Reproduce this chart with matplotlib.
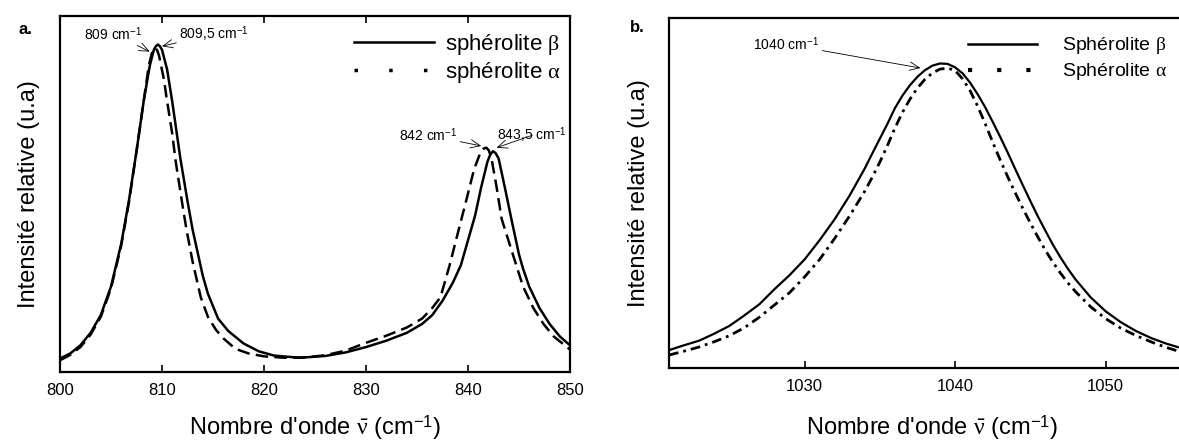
import matplotlib
matplotlib.use("Agg")
import matplotlib.pyplot as plt
from matplotlib.lines import Line2D

plt.rcParams['font.family'] = ['Liberation Sans', 'DejaVu Sans']
plt.rcParams['mathtext.fontset'] = 'custom'
plt.rcParams['mathtext.rm'] = 'Liberation Sans'
plt.rcParams['mathtext.it'] = 'Liberation Serif'
plt.rcParams['mathtext.bf'] = 'Liberation Sans:bold'

# ---- panel a : 800-850 cm-1 (relative intensity) ----
a_beta_x = [800, 801, 802, 803, 804, 805, 806, 806.75, 807.5, 808.2, 808.8, 809.2, 809.4,
            809.6, 809.8, 810.0, 810.5, 811, 811.8, 812.5, 813, 814, 814.5, 815.5, 816.5,
            818, 819.5, 821, 823.5, 826, 828, 830, 832, 834, 835.5, 836.5, 837.5, 838.5,
            839.3, 840, 840.7, 841.3, 841.9, 842.2, 842.45, 842.7, 843, 843.6, 844.25, 845,
            845.4, 846, 847, 848, 849, 850]
a_beta_y = [.038, .052, .075, .11, .16, .24, .36, .48, .62, .76, .86, .905, .915,
            .92, .915, .905, .85, .76, .6, .48, .40, .27, .22, .15, .115,
            .08, .058, .046, .040, .045, .055, .07, .088, .11, .135, .16, .2, .25,
            .3, .37, .44, .52, .59, .612, .62, .615, .6, .52, .43, .33,
            .29, .24, .18, .135, .1, .075]

a_alpha_x = [800, 801, 802, 803, 804, 805, 806, 806.75, 807.5, 808.2, 808.7, 809.0, 809.15,
             809.3, 809.5, 809.7, 810.2, 810.45, 811, 811.35, 812, 812.4, 813, 813.8, 814.5,
             815.3, 816, 817.2, 818.5, 820, 822, 824, 826, 828, 830, 832, 834, 835.5,
             836.5, 837.3, 838.2, 839, 839.9, 840.6, 841.2, 841.55, 841.8, 842.05, 842.3,
             842.8, 843.3, 844.4, 845.4, 846.4, 847.4, 848.4, 850]
a_alpha_y = [.033, .048, .07, .105, .155, .235, .355, .475, .62, .76, .86, .895, .905,
             .91, .905, .89, .82, .77, .67, .59, .47, .40, .31, .21, .155,
             .118, .095, .065, .052, .044, .040, .041, .047, .06, .082, .102, .125, .15,
             .18, .21, .30, .39, .49, .57, .615, .628, .63, .622, .60,
             .52, .43, .33, .24, .18, .135, .1, .063]

# ---- panel b : 1021-1056 cm-1 ----
b_x = [1021, 1022, 1023, 1024, 1025, 1026, 1027, 1028, 1029, 1030, 1031, 1032, 1033,
       1034, 1034.5, 1035, 1035.5, 1036, 1036.5, 1037, 1037.5, 1038, 1038.5, 1039, 1039.5,
       1040, 1040.5, 1041, 1041.5, 1042, 1042.5, 1043, 1043.5, 1044, 1044.5, 1045,
       1045.5, 1046, 1046.5, 1047, 1047.5, 1048, 1049, 1050, 1051, 1052, 1053, 1054,
       1055, 1056]
b_beta_y = [.051, .065, .078, .098, .12, .15, .182, .225, .265, .31, .365, .425, .493,
            .57, .613, .655, .697, .742, .778, .808, .832, .851, .864, .87, .869,
            .859, .842, .815, .782, .745, .703, .66, .615, .568, .522, .477,
            .433, .392, .352, .316, .283, .253, .202, .162, .131, .106, .086, .07,
            .057, .047]
b_alpha_y = [.037, .048, .06, .075, .092, .115, .145, .18, .215, .26, .31, .37, .435,
             .505, .545, .588, .635, .685, .73, .768, .8, .825, .843, .854, .857,
             .85, .826, .792, .748, .698, .645, .594, .546, .5, .456, .414,
             .374, .336, .302, .271, .243, .218, .175, .141, .114, .093, .075, .059,
             .046, .036]

a_ticks = [800, 810, 820, 830, 840, 850]
b_ticks = [1030, 1040, 1050]

xlab = r"Nombre d'onde $\bar{\nu}$ (cm$^{-1}$)"
ylab = "Intensité relative (u.a)"

W, H = 1179, 446
fig = plt.figure(figsize=(W / 100, H / 100), dpi=100)

axa = fig.add_axes([60 / W, 74 / H, 510 / W, 356 / H])
axb = fig.add_axes([669 / W, 78 / H, 527 / W, 350 / H])

axa.plot(a_beta_x, a_beta_y, color='black', lw=1.8)
axa.plot(a_alpha_x, a_alpha_y, color='black', lw=1.8, linestyle=(0, (5, 2.5)))

axb.plot(b_x, b_beta_y, color='black', lw=1.6)
axb.plot(b_x, b_alpha_y, color='black', lw=2.0, linestyle=(0, (3.5, 1.8, 1, 1.8)))

axa.set_xlim(800, 850)
axa.set_ylim(0, 1)
axb.set_xlim(1021, 1056)
axb.set_ylim(0, 1)

for ax in (axa, axb):
    ax.set_yticks([])
    for s in ax.spines.values():
        s.set_linewidth(1.6)
    ax.set_xlabel(xlab, fontsize=17)
    ax.set_ylabel(ylab, fontsize=17)

axa.set_xticks(a_ticks)
axa.tick_params(axis='x', direction='in', top=True, length=5, width=1.2,
                labelsize=12, pad=8)
axb.set_xticks(b_ticks)
axb.tick_params(axis='x', direction='in', length=5, width=1.2, labelsize=12, pad=8)

axa.xaxis.set_label_coords(0.5, -0.115)
axb.xaxis.set_label_coords(0.5, -0.128)
axa.yaxis.set_label_coords(-0.039, 0.5)
axb.yaxis.set_label_coords(-0.036, 0.5)

# legends
ha = [Line2D([], [], color='black', lw=1.8),
      Line2D([], [], color='black', lw=2.5, linestyle=(0, (1, 9)))]
axa.legend(ha, [r'sphérolite $\beta$', r'sphérolite $\alpha$'], loc='upper right',
           bbox_to_anchor=(1.012, 1.0), frameon=False, fontsize=16, handlelength=3.6,
           handletextpad=0.5, labelspacing=0.15, borderaxespad=0.3)
hb = [Line2D([], [], color='black', lw=1.8),
      Line2D([], [], color='black', lw=3, linestyle=(0, (1, 6)))]
axb.legend(hb, [r'Sphérolite $\beta$', r'Sphérolite $\alpha$'], loc='upper left',
           bbox_to_anchor=(0.535, 1.0), frameon=False, fontsize=14,
           handlelength=3.5, handletextpad=1.3, labelspacing=0.25)

arrow = dict(arrowstyle='->, head_length=0.7, head_width=0.3', color='black', lw=0.6,
             shrinkA=0, shrinkB=0)
axa.annotate(r'809 cm$^{-1}$', xy=(808.8, .90), xytext=(805.2, .95), ha='center',
             va='center', fontsize=10, arrowprops=arrow)
axa.annotate(r'809,5 cm$^{-1}$', xy=(810.0, .915), xytext=(815.1, .95), ha='center',
             va='center', fontsize=10, arrowprops=arrow)
axa.annotate(r'842 cm$^{-1}$', xy=(841.3, .635), xytext=(836.1, .665), ha='center',
             va='center', fontsize=10, arrowprops=arrow)
axa.annotate(r'843,5 cm$^{-1}$', xy=(842.8, .63), xytext=(846.3, .665), ha='center',
             va='center', fontsize=10, arrowprops=arrow)
axb.annotate(r'1040 cm$^{-1}$', xy=(1037.7, .857), xytext=(1028.8, .925), ha='center',
             va='center', fontsize=10, arrowprops=arrow)

fig.text(25 / W, 1 - 29 / H, 'a.', fontsize=12, fontweight='bold', ha='center', va='center')
fig.text(637 / W, 1 - 27 / H, 'b.', fontsize=12, fontweight='bold', ha='center', va='center')

fig.savefig('out.png', dpi=100)
